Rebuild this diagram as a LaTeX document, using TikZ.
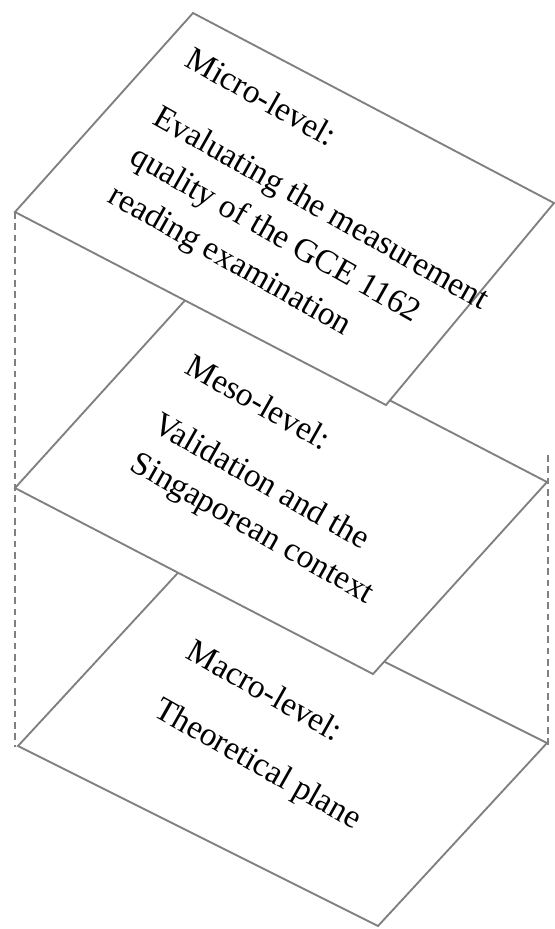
\documentclass[tikz,border=0pt]{standalone}
\usepackage{fontspec}
\setmainfont{Liberation Serif}
\begin{document}
\begin{tikzpicture}[x=0.75pt,y=-0.75pt,
  plane/.style={draw={rgb,255:red,128;green,128;blue,128},fill=white,line width=1.4pt,line join=miter},
  guide/.style={draw={rgb,255:red,128;green,128;blue,128},line width=1pt,dash pattern=on 5pt off 3.5pt},
  label/.style={rotate=-29.5,anchor=north west,inner sep=0pt,align=left,font=\fontsize{25}{33.75}\selectfont}]
\useasboundingbox (0,0) rectangle (555,929);
% vertices
\coordinate (miT) at (193,13);
\coordinate (miR) at (554,203);
\coordinate (miB) at (386,405);
\coordinate (miL) at (15,212);
\coordinate (meT) at (189,296);
\coordinate (meR) at (547,482);
\coordinate (meB) at (373,674);
\coordinate (meL) at (15,488);
\coordinate (maT) at (187,563);
\coordinate (maR) at (547,743);
\coordinate (maB) at (378,926);
\coordinate (maL) at (18,746);
\coordinate (gLtop) at (15,212);
\coordinate (gLbot) at (15,747);
\coordinate (gRtop) at (548,455);
\coordinate (gRbot) at (548,745);
% dashed guides
\draw[guide] (gLtop) -- (gLbot);
\draw[guide] (gRtop) -- (gRbot);
% planes
\path[plane] (maT) -- (maR) -- (maB) -- (maL) -- cycle;
\path[plane] (meT) -- (meR) -- (meB) -- (meL) -- cycle;
\path[plane] (miT) -- (miR) -- (miB) -- (miL) -- cycle;
% texts
\node[label] (micro) at (195,45) {Micro-level:\\[16pt]Evaluating the measurement\\quality of the GCE 1162\\reading examination};
\node[label] (meso) at (195,352) {Meso-level:\\[16pt]Validation and the\\Singaporean context};
\node[label] (macro) at (196,637) {Macro-level:\\[16pt]Theoretical plane};
\end{tikzpicture}
\end{document}
